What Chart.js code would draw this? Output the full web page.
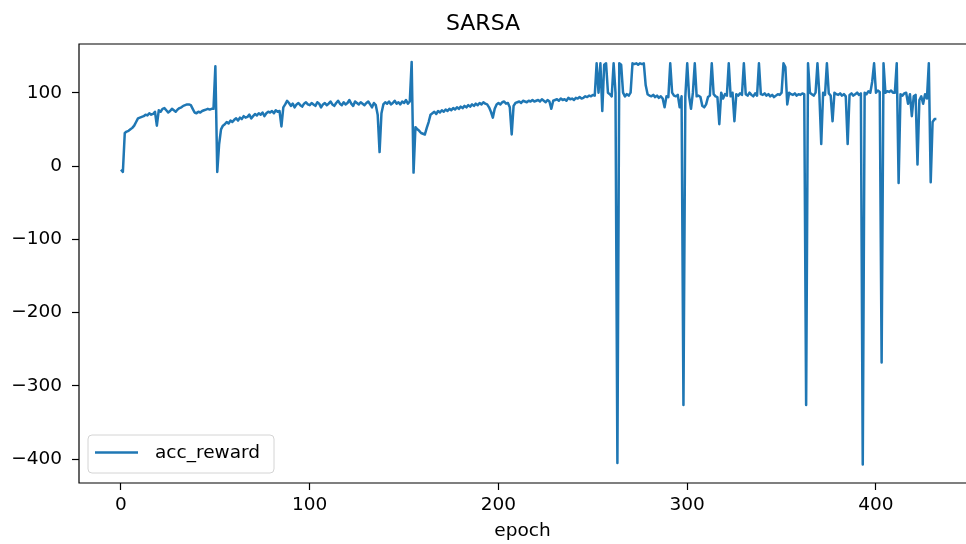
<!DOCTYPE html>
<html>
<head>
<meta charset="utf-8">
<title>SARSA</title>
<script src="https://cdn.jsdelivr.net/npm/chart.js@4.4.1/dist/chart.umd.min.js"></script>
<style>
  html, body { margin: 0; padding: 0; background: #fff; overflow: hidden; }
  #wrap { width: 966px; height: 544px; }
</style>
</head>
<body>
<div id="wrap"><canvas id="chart"></canvas></div>
<script>
const chartTitle = 'SARSA';
const seriesLabel = 'acc_reward';
const xTitle = 'epoch';
const xTicks = [0, 100, 200, 300, 400];
const yTicks = [100, 0, -100, -200, -300, -400];

const reward = [
  -5, -8, 45, 47, 48, 50, 52, 55, 60, 65,
  66, 67, 68, 70, 69, 72, 70, 71, 74, 55,
  76, 74, 78, 79, 76, 73, 75, 78, 76, 74,
  77, 79, 80, 82, 83, 84, 84, 83, 78, 73,
  72, 74, 73, 75, 76, 77, 78, 77, 78, 78,
  136, -8, 30, 50, 55, 57, 60, 58, 62, 60,
  63, 65, 62, 66, 64, 68, 66, 67, 70, 65,
  68, 71, 69, 72, 70, 73, 68, 72, 74, 73,
  75, 72, 76, 74, 75, 54, 80, 84, 89, 86,
  82, 85, 80, 84, 86, 83, 81, 85, 87, 84,
  83, 86, 84, 82, 87, 85, 80, 84, 86, 83,
  85, 88, 84, 82, 86, 89, 85, 83, 87, 84,
  86, 90, 85, 82, 88, 86, 84, 87, 85, 83,
  86, 88, 84, 80, 86, 83, 70, 19, 72, 84,
  87, 85, 88, 84, 86, 89, 85, 87, 84, 88,
  86, 90, 85, 88, 142, -9, 53, 50, 48, 45,
  44, 43, 52, 60, 70, 72, 74, 71, 75, 73,
  76, 74, 77, 75, 78, 76, 79, 77, 80, 78,
  81, 79, 82, 80, 83, 81, 84, 82, 85, 83,
  86, 84, 87, 85, 84, 80, 74, 66, 78, 84,
  86, 84, 87, 88, 85, 86, 80, 43, 82, 86,
  87, 88, 86, 89, 88, 87, 89, 88, 90, 88,
  89, 90, 88, 91, 89, 87, 90, 88, 78, 89,
  90, 91, 89, 92, 90, 91, 89, 93, 91, 92,
  90, 93, 92, 94, 92, 93, 95, 94, 96, 95,
  97, 96, 140, 100, 140, 75, 138, 140, 100, 98,
  95, 140, 100, -405, 140, 138, 100, 95, 98, 96,
  100, 140, 139, 140, 138, 140, 139, 140, 110, 98,
  96, 95, 97, 94, 96, 93, 95, 92, 80, 95,
  94, 140, 100, 96, 95, 97, 80, 95, -326, 95,
  140, 95, 78, 100, 140, 95, 96, 94, 82, 80,
  84, 94, 96, 140, 98, 95, 94, 57, 100, 92,
  98, 96, 140, 95, 100, 61, 98, 96, 99, 97,
  140, 98, 96, 100, 97, 95, 99, 96, 140, 98,
  97, 99, 96, 98, 95, 97, 94, 96, 98, 97,
  100, 140, 135, 84, 100, 98, 97, 99, 96, 98,
  97, 99, 98, -326, 140, 100, 98, 96, 100, 140,
  98, 30, 100, 97, 140, 99, 96, 61, 100, 98,
  97, 99, 96, 98, 95, 30, 97, 99, 96, 98,
  100, 97, 99, -407, 100, 98, 102, 100, 115, 140,
  100, 103, 101, -268, 140, 100, 102, 101, 103, 100,
  100, 140, -23, 98, 96, 99, 100, 85, 98, 68,
  95, 97, 2, 90, 95, 85, 98, 92, 140, -22,
  60, 64, 64
];
const epochs = reward.map((_, i) => i);

const FONT = 'DejaVu Sans';
const BLUE = '#1f77b4';
const tickFont = { family: FONT, size: 18.5 };
const minus = v => String(v).replace('-', '\u2212');

// рамка: левая, нижняя и верхняя линии, правая уходит за край картинки
const frame = {
  id: 'frame',
  afterDraw(chart) {
    const { ctx, chartArea: a } = chart;
    ctx.save();
    ctx.strokeStyle = '#000';
    ctx.lineWidth = 1.2;
    ctx.beginPath();
    ctx.moveTo(a.right + 2, a.top);
    ctx.lineTo(a.left, a.top);
    ctx.lineTo(a.left, a.bottom);
    ctx.lineTo(a.right + 2, a.bottom);
    ctx.stroke();
    ctx.restore();
  }
};

// легенда внутри графика, слева снизу, как в matplotlib
const innerLegend = {
  id: 'innerLegend',
  afterDraw(chart) {
    const { ctx, chartArea: a } = chart;
    const ds = chart.data.datasets[0];
    ctx.save();
    ctx.font = '18.5px "DejaVu Sans"';
    const tw = ctx.measureText(ds.label).width;
    const w = 67 + tw + 14, h = 38;
    const x = a.left + 9, y = a.bottom - 10 - h;
    ctx.beginPath();
    ctx.roundRect(x, y, w, h, 4);
    ctx.fillStyle = 'rgba(255,255,255,0.8)';
    ctx.fill();
    ctx.strokeStyle = '#d4d4d4';
    ctx.lineWidth = 1;
    ctx.stroke();
    ctx.beginPath();
    ctx.moveTo(x + 7, y + 17.5);
    ctx.lineTo(x + 50, y + 17.5);
    ctx.strokeStyle = ds.borderColor;
    ctx.lineWidth = ds.borderWidth;
    ctx.stroke();
    ctx.fillStyle = '#000';
    ctx.textBaseline = 'middle';
    ctx.fillText(ds.label, x + 67, y + 18);
    ctx.restore();
  }
};

new Chart(document.getElementById('chart'), {
  type: 'line',
  data: {
    datasets: [{
      label: seriesLabel,
      data: epochs.map((e, i) => ({ x: e, y: reward[i] })),
      borderColor: BLUE,
      borderWidth: 2.5,
      borderJoinStyle: 'round',
      pointRadius: 0,
      tension: 0,
      fill: false
    }]
  },
  options: {
    responsive: true,
    maintainAspectRatio: false,
    animation: false,
    layout: { padding: 0 },
    plugins: {
      legend: { display: false },
      tooltip: { enabled: false },
      title: {
        display: true,
        text: chartTitle,
        color: '#000',
        font: { family: FONT, size: 22, weight: 'normal' },
        padding: { top: 11, bottom: 6.6 }
      }
    },
    scales: {
      x: {
        type: 'linear',
        min: -22.25,
        max: 447.7,
        afterBuildTicks: s => { s.ticks = xTicks.map(v => ({ value: v })); },
        afterFit: s => { s.height = 61; },
        grid: { drawOnChartArea: false, tickLength: 7, tickColor: '#000', tickWidth: 1.2 },
        border: { display: false },
        ticks: { font: tickFont, color: '#000', padding: 4, maxRotation: 0, callback: minus },
        title: {
          display: true,
          text: xTitle,
          color: '#000',
          font: tickFont,
          padding: { top: 0, bottom: 2 }
        }
      },
      y: {
        type: 'linear',
        min: -432.3,
        max: 166.4,
        afterBuildTicks: s => { s.ticks = yTicks.map(v => ({ value: v })); },
        afterFit: s => { s.width = 79; },
        grid: { drawOnChartArea: false, tickLength: 7, tickColor: '#000', tickWidth: 1.2 },
        border: { display: false },
        ticks: { font: tickFont, color: '#000', padding: 10, callback: minus }
      }
    }
  },
  plugins: [frame, innerLegend]
});
</script>
</body>
</html>
